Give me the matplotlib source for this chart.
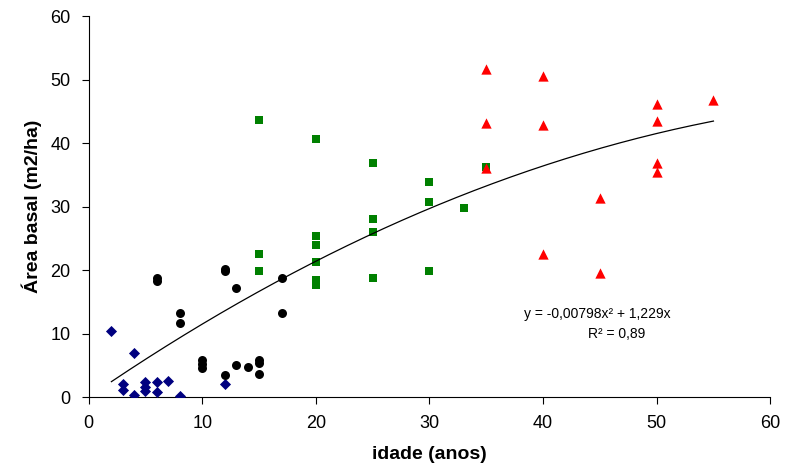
import numpy as np
import matplotlib
matplotlib.use('Agg')
import matplotlib.pyplot as plt

plt.rcParams['font.family'] = ['Liberation Sans', 'DejaVu Sans']

# idade (anos) / area basal (m2/ha), by group
blue_x = [2, 3, 3, 4, 4, 5, 5, 5, 6, 6, 7, 8, 12]
blue_y = [10.4, 2.0, 1.1, 7.0, 0.4, 2.3, 1.6, 1.0, 2.3, 0.8, 2.5, 0.2, 2.1]

black_x = [6, 6, 8, 8, 10, 10, 10, 12, 12, 12, 13, 13, 14, 15, 15, 15, 17, 17]
black_y = [18.3, 18.7, 13.3, 11.6, 5.8, 5.2, 4.5, 19.8, 20.2, 3.5, 17.1, 5.0, 4.8, 5.9, 5.3, 3.7, 18.7, 13.3]

green_x = [15, 15, 15, 20, 20, 20, 20, 20, 20, 20, 25, 25, 25, 25, 30, 30, 30, 33, 35]
green_y = [43.7, 22.6, 19.9, 40.6, 25.4, 23.9, 21.3, 18.4, 17.6, 17.6, 36.8, 28.0, 26.0, 18.8, 33.9, 30.7, 19.9, 29.8, 36.3]

red_x = [35, 35, 35, 40, 40, 40, 45, 45, 50, 50, 50, 50, 55]
red_y = [51.7, 43.2, 36.0, 50.6, 42.9, 22.5, 31.3, 19.6, 46.2, 43.4, 36.8, 35.5, 46.8]

# polynomial trendline coefficients shown on the chart
trend_a = -0.00798
trend_b = 1.229
trend_range = [2, 55]

fig = plt.figure(figsize=(7.99, 4.71), dpi=100)
ax = fig.add_axes([0.111, 0.157, 0.853, 0.809])

ax.scatter(blue_x, blue_y, marker='D', s=32, color='#000080', zorder=3, linewidths=0)
ax.scatter(black_x, black_y, marker='o', s=42, color='black', zorder=3, linewidths=0)
ax.scatter(green_x, green_y, marker='s', s=40, color='#008000', zorder=3, linewidths=0)
ax.scatter(red_x, red_y, marker='^', s=55, color='#ff0000', zorder=3, linewidths=0)

xt = np.linspace(trend_range[0], trend_range[1], 200)
ax.plot(xt, trend_a * xt**2 + trend_b * xt, color='black', lw=0.9, zorder=4)

ax.text(44.8, 13.0, 'y = -0,00798x² + 1,229x', ha='center', va='center', fontsize=10)
ax.text(46.5, 10.0, 'R² = 0,89', ha='center', va='center', fontsize=10)

ax.set_xlim(0, 60)
ax.set_ylim(0, 60)
ax.set_xticks(range(0, 61, 10))
ax.set_yticks(range(0, 61, 10))
ax.spines['top'].set_visible(False)
ax.spines['right'].set_visible(False)
ax.tick_params(direction='out', length=5, labelsize=13, pad=8)

ax.set_xlabel('idade (anos)', fontsize=14, fontweight='bold', labelpad=10)
ax.set_ylabel('Área basal (m2/ha)', fontsize=14, fontweight='bold', labelpad=6)

fig.savefig('out.png', dpi=100)
